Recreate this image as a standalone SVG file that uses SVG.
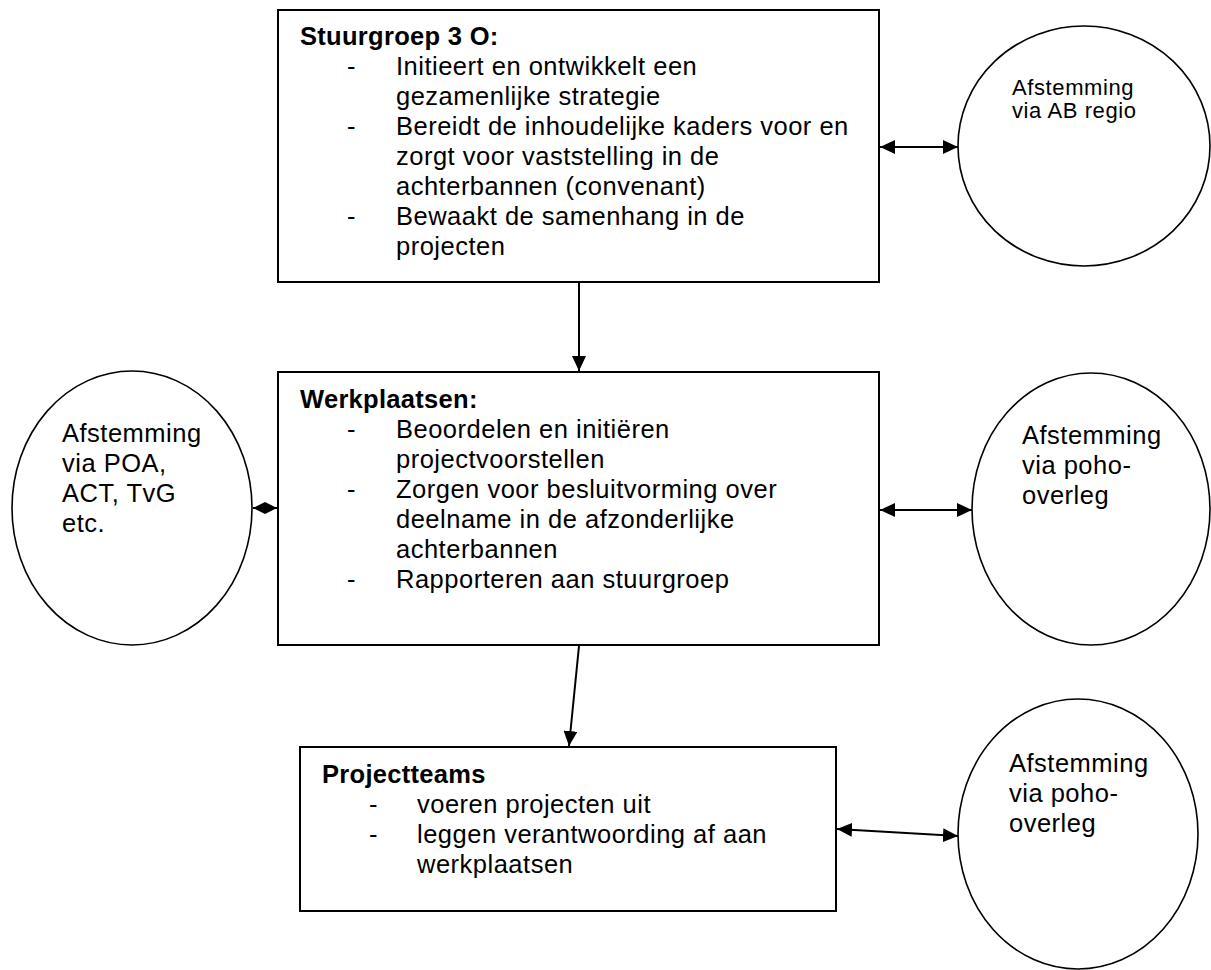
<svg xmlns="http://www.w3.org/2000/svg" width="1211" height="970" viewBox="0 0 1211 970">
<style>
  .box { fill: #fff; stroke: #000; stroke-width: 2; }
  .circ { fill: #fff; stroke: #000; stroke-width: 1.6; }
  .t { font-family: "Liberation Sans", Arial, sans-serif; font-size: 25.5px; letter-spacing: 0.5px; fill: #000; }
  .b { font-weight: bold; letter-spacing: 0.3px; }
  .s { font-size: 22px; letter-spacing: 0.6px; }
  .con { stroke: #000; stroke-width: 2; fill: none; }
</style>
<defs>
  <marker id="ah" viewBox="0 0 15 14" markerWidth="15" markerHeight="14" refX="15" refY="7" orient="auto-start-reverse" markerUnits="userSpaceOnUse">
    <path d="M0,0 L15,7 L0,14 z" fill="#000"/>
  </marker>
  <marker id="ahs" viewBox="0 0 12 12" markerWidth="12" markerHeight="12" refX="12" refY="6" orient="auto-start-reverse" markerUnits="userSpaceOnUse">
    <path d="M0,0 L12,6 L0,12 z" fill="#000"/>
  </marker>
</defs>
<rect width="1211" height="970" fill="#fff"/>

<g id="connectors">
  <line class="con" x1="880" y1="147" x2="958" y2="147" marker-start="url(#ah)" marker-end="url(#ah)"/>
  <line class="con" x1="579" y1="283" x2="579" y2="371" marker-end="url(#ah)"/>
  <line class="con" x1="253" y1="508" x2="277" y2="508" marker-start="url(#ahs)" marker-end="url(#ahs)"/>
  <line class="con" x1="880" y1="510" x2="972" y2="510" marker-start="url(#ah)" marker-end="url(#ah)"/>
  <line class="con" x1="579" y1="646" x2="569" y2="746" marker-end="url(#ah)"/>
  <line class="con" x1="837" y1="829" x2="958" y2="836" marker-start="url(#ah)" marker-end="url(#ah)"/>
</g>

<g id="stuurgroep">
  <rect class="box" x="278" y="10" width="601" height="272"/>
  <text class="t b" x="300" y="45">Stuurgroep 3 O:</text>
  <text class="t" x="347" y="75">-</text>
  <text class="t" x="396" y="75">Initieert en ontwikkelt een</text>
  <text class="t" x="396" y="105">gezamenlijke strategie</text>
  <text class="t" x="347" y="135">-</text>
  <text class="t" x="396" y="135">Bereidt de inhoudelijke kaders voor en</text>
  <text class="t" x="396" y="165">zorgt voor vaststelling in de</text>
  <text class="t" x="396" y="195">achterbannen (convenant)</text>
  <text class="t" x="347" y="225">-</text>
  <text class="t" x="396" y="225">Bewaakt de samenhang in de</text>
  <text class="t" x="396" y="255">projecten</text>
</g>

<g id="werkplaatsen">
  <rect class="box" x="278" y="372" width="601" height="273"/>
  <text class="t b" x="300" y="408">Werkplaatsen:</text>
  <text class="t" x="347" y="438">-</text>
  <text class="t" x="396" y="438">Beoordelen en initiëren</text>
  <text class="t" x="396" y="468">projectvoorstellen</text>
  <text class="t" x="347" y="498">-</text>
  <text class="t" x="396" y="498">Zorgen voor besluitvorming over</text>
  <text class="t" x="396" y="528">deelname in de afzonderlijke</text>
  <text class="t" x="396" y="558">achterbannen</text>
  <text class="t" x="347" y="588">-</text>
  <text class="t" x="396" y="588">Rapporteren aan stuurgroep</text>
</g>

<g id="projectteams">
  <rect class="box" x="300" y="747" width="536" height="164"/>
  <text class="t b" x="322" y="783">Projectteams</text>
  <text class="t" x="369" y="813">-</text>
  <text class="t" x="417" y="813">voeren projecten uit</text>
  <text class="t" x="369" y="843">-</text>
  <text class="t" x="417" y="843">leggen verantwoording af aan</text>
  <text class="t" x="417" y="873">werkplaatsen</text>
</g>

<g id="afstemming-ab">
  <ellipse class="circ" cx="1084" cy="146" rx="126" ry="120"/>
  <text class="t s" x="1012" y="95">Afstemming</text>
  <text class="t s" x="1012" y="118">via AB regio</text>
</g>

<g id="afstemming-poa">
  <ellipse class="circ" cx="132" cy="508" rx="120" ry="137"/>
  <text class="t" x="62" y="442">Afstemming</text>
  <text class="t" x="62" y="472">via POA,</text>
  <text class="t" x="62" y="502">ACT, TvG</text>
  <text class="t" x="62" y="532">etc.</text>
</g>

<g id="afstemming-poho-1">
  <ellipse class="circ" cx="1091" cy="509" rx="119" ry="136"/>
  <text class="t" x="1022" y="444">Afstemming</text>
  <text class="t" x="1022" y="474">via poho-</text>
  <text class="t" x="1022" y="504">overleg</text>
</g>

<g id="afstemming-poho-2">
  <ellipse class="circ" cx="1078" cy="834" rx="120" ry="135"/>
  <text class="t" x="1009" y="772">Afstemming</text>
  <text class="t" x="1009" y="802">via poho-</text>
  <text class="t" x="1009" y="832">overleg</text>
</g>
</svg>
